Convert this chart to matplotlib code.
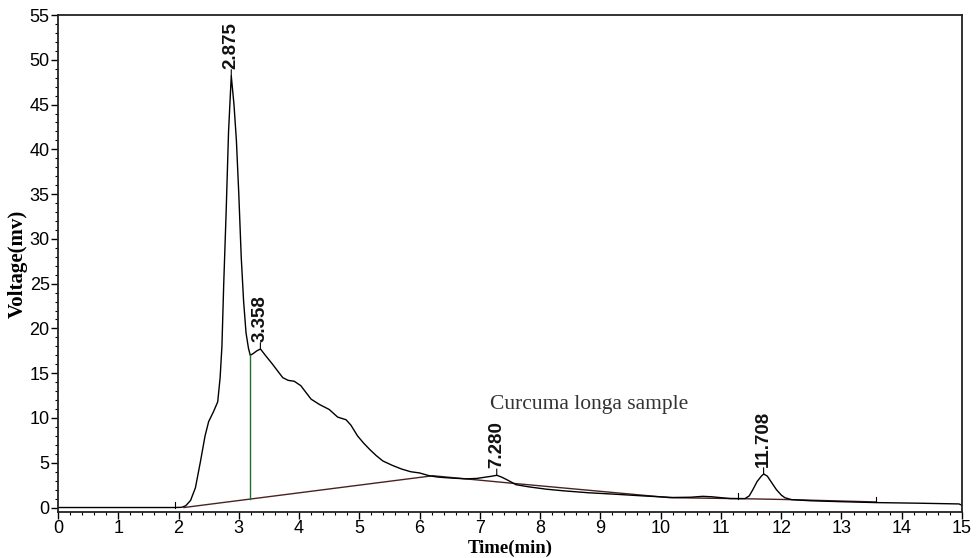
import numpy as np
import matplotlib.pyplot as plt
from matplotlib.ticker import MultipleLocator

# chromatogram trace (time in min, voltage in mV)
time_min = [0, 1.9, 2.05, 2.12, 2.2, 2.28, 2.36, 2.44, 2.5, 2.58, 2.65, 2.69, 2.72,
            2.75, 2.79, 2.83, 2.875, 2.92, 2.96, 3.0, 3.04, 3.08, 3.12, 3.16, 3.19,
            3.24, 3.3, 3.36, 3.44, 3.56, 3.65, 3.73, 3.82, 3.92, 4.03, 4.12, 4.2,
            4.34, 4.5, 4.64, 4.78, 4.86, 4.97, 5.07, 5.17, 5.28, 5.39, 5.55, 5.7,
            5.85, 6.0, 6.16, 6.3, 6.5, 6.77, 6.95, 7.1, 7.2, 7.28, 7.36, 7.45, 7.6,
            7.82, 8.1, 8.38, 8.8, 9.21, 9.7, 10.2, 10.5, 10.7, 10.85, 11.15, 11.4,
            11.47, 11.53, 11.6, 11.67, 11.71, 11.77, 11.85, 11.92, 12.0, 12.06,
            12.17, 12.5, 13.0, 13.58, 14.3, 14.95, 15.0]
voltage_mv = [0, 0, 0.02, 0.2, 0.8, 2.2, 5.0, 8.0, 9.6, 10.7, 11.8, 14.5, 18,
              25, 33, 42, 48.2, 45, 41, 35, 28, 23, 19.5, 17.8, 17.0,
              17.2, 17.5, 17.7, 17.0, 16.0, 15.2, 14.5, 14.2, 14.1, 13.6, 12.8, 12.1,
              11.5, 10.95, 10.1, 9.8, 9.2, 8.0, 7.2, 6.5, 5.8, 5.2, 4.7, 4.3,
              4.0, 3.86, 3.55, 3.4, 3.3, 3.2, 3.25, 3.4, 3.5, 3.6, 3.4, 3.1, 2.55,
              2.3, 2.05, 1.87, 1.65, 1.5, 1.3, 1.12, 1.15, 1.25, 1.2, 1.0, 1.0,
              1.3, 2.0, 2.9, 3.5, 3.75, 3.5, 2.7, 2.0, 1.4, 1.1,
              0.88, 0.75, 0.65, 0.55, 0.48, 0.4, 0.25]

# integration baseline
base_t = [2.09, 6.22, 7.55, 10.15, 11.4, 12.17, 13.58]
base_v = [0.0, 3.55, 2.7, 1.1, 0.98, 0.88, 0.62]

# peak labels
peak_t = [2.875, 3.358, 7.280, 11.708]
peak_v = [48.2, 17.7, 3.6, 3.75]
peak_labels = ['2.875', '3.358', '7.280', '11.708']

# drop line between first two peaks
drop_t = 3.19
drop_top = 17.0
drop_bottom = 0.94

# event marks on the trace
mark_t = [1.94, 11.28, 13.58]
mark_v = [0.0, 1.0, 0.6]

fig = plt.figure(figsize=(9.77, 5.58), dpi=100)
ax = fig.add_axes([58 / 977, 1 - 512 / 558, 904 / 977, 497 / 558])

ax.plot(base_t, base_v, color='#4a2222', lw=1.0)
ax.plot(time_min, voltage_mv, color='black', lw=1.0)
ax.plot([drop_t, drop_t], [drop_bottom, drop_top], color='#1f6e2a', lw=1.0)

for t, v in zip(mark_t, mark_v):
    ax.plot([t, t], [v, v + 0.6], color='black', lw=0.8)

for t, v, lab in zip(peak_t, peak_v, peak_labels):
    ax.annotate('', xy=(t, v), xytext=(0, 4.5), textcoords='offset points',
                arrowprops=dict(arrowstyle='-', lw=0.8, color='black',
                                shrinkA=0, shrinkB=0))
    ax.annotate(lab, xy=(t, v), xytext=(0, 5), textcoords='offset points',
                rotation=90, ha='center', va='bottom', fontweight='bold',
                family='Liberation Sans', fontsize=13.5, color='#111111')

ax.text(7.16, 11.5, 'Curcuma longa sample', family='Liberation Serif',
        fontsize=15.5, color='#333333', va='center', ha='left')

ax.set_xlim(0, 15)
ax.set_ylim(-0.5, 55)
ax.xaxis.set_major_locator(MultipleLocator(1))
ax.xaxis.set_minor_locator(MultipleLocator(0.2))
ax.yaxis.set_major_locator(MultipleLocator(5))
ax.yaxis.set_minor_locator(MultipleLocator(1))
ax.tick_params(which='major', direction='out', length=5, width=1.0,
               labelsize=13, pad=1)
ax.tick_params(which='minor', direction='out', length=2.5, width=0.8)
for lbl in ax.get_xticklabels() + ax.get_yticklabels():
    lbl.set_family('Liberation Sans')

for sp in ax.spines.values():
    sp.set_linewidth(1.3)
    sp.set_color('#222222')

ax.set_xlabel('Time(min)', family='Liberation Serif', fontweight='bold',
              fontsize=13.5, labelpad=0)
ax.xaxis.set_label_coords(0.5, -0.055)
ax.set_ylabel('Voltage(mv)', family='Liberation Serif', fontweight='bold',
              fontsize=15, labelpad=1)

fig.savefig('out.png', dpi=100)
